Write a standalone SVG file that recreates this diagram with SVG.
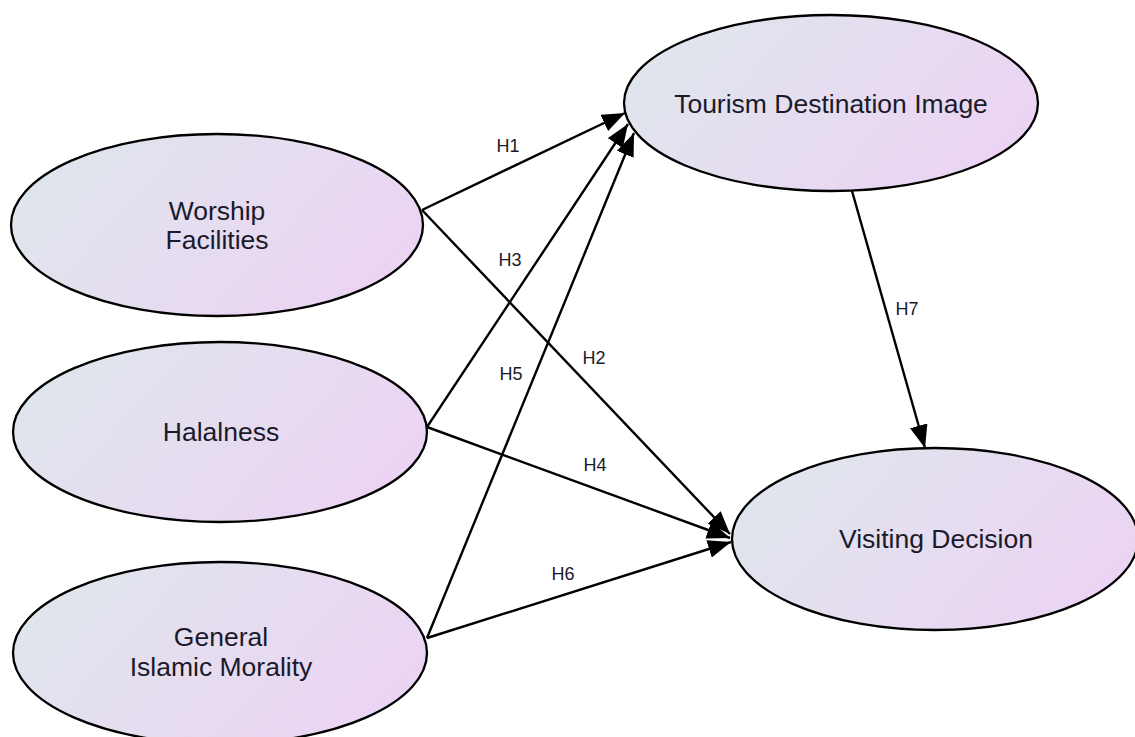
<svg xmlns="http://www.w3.org/2000/svg" width="1135" height="737" viewBox="0 0 1135 737">
<defs>
<linearGradient id="g" x1="0" y1="0.3" x2="1" y2="0.7">
<stop offset="0" stop-color="#dfe6ec"/>
<stop offset="1" stop-color="#ecd3f4"/>
</linearGradient>
<marker id="arr" markerUnits="userSpaceOnUse" markerWidth="24" markerHeight="18" refX="23" refY="9" orient="auto">
<path d="M0,0 L23,9 L0,18 z" fill="#000"/>
</marker>
</defs>
<style>
.node ellipse{fill:url(#g);stroke:#000;stroke-width:2.3}
.node text{font-family:"Liberation Sans",Arial,sans-serif;font-size:26.5px;fill:#1a1a2a;text-anchor:middle}
.edge line{stroke:#000;stroke-width:2.4;marker-end:url(#arr)}
.lbl{font-family:"Liberation Sans",Arial,sans-serif;font-size:18px;fill:#1a1a2a;text-anchor:middle}
</style>
<rect width="1135" height="737" fill="#fff"/>
<g id="worship" class="node">
<ellipse cx="217" cy="225" rx="206" ry="91"/>
<text x="217" y="220">Worship</text>
<text x="217" y="249">Facilities</text>
</g>
<g id="halalness" class="node">
<ellipse cx="220" cy="432" rx="207" ry="90"/>
<text x="221" y="441">Halalness</text>
</g>
<g id="morality" class="node">
<ellipse cx="220" cy="653" rx="207" ry="91"/>
<text x="221" y="646">General</text>
<text x="221" y="676">Islamic Morality</text>
</g>
<g id="image" class="node">
<ellipse cx="831" cy="103" rx="207" ry="88"/>
<text x="831" y="113">Tourism Destination Image</text>
</g>
<g id="decision" class="node">
<ellipse cx="935" cy="539" rx="203" ry="91"/>
<text x="936" y="548">Visiting Decision</text>
</g>
<g id="connectors" class="edge">
<line x1="422" y1="210" x2="625" y2="113"/>
<line x1="422" y1="210" x2="730" y2="534"/>
<line x1="427" y1="427" x2="628" y2="124"/>
<line x1="427" y1="427" x2="730" y2="538"/>
<line x1="427" y1="638" x2="634" y2="133"/>
<line x1="427" y1="638" x2="731" y2="542"/>
<line x1="852" y1="191" x2="925" y2="448"/>
</g>
<g id="labels">
<text class="lbl" x="508" y="152">H1</text>
<text class="lbl" x="510" y="266">H3</text>
<text class="lbl" x="594" y="364">H2</text>
<text class="lbl" x="511" y="380">H5</text>
<text class="lbl" x="595" y="471">H4</text>
<text class="lbl" x="563" y="580">H6</text>
<text class="lbl" x="907" y="315">H7</text>
</g>
</svg>
